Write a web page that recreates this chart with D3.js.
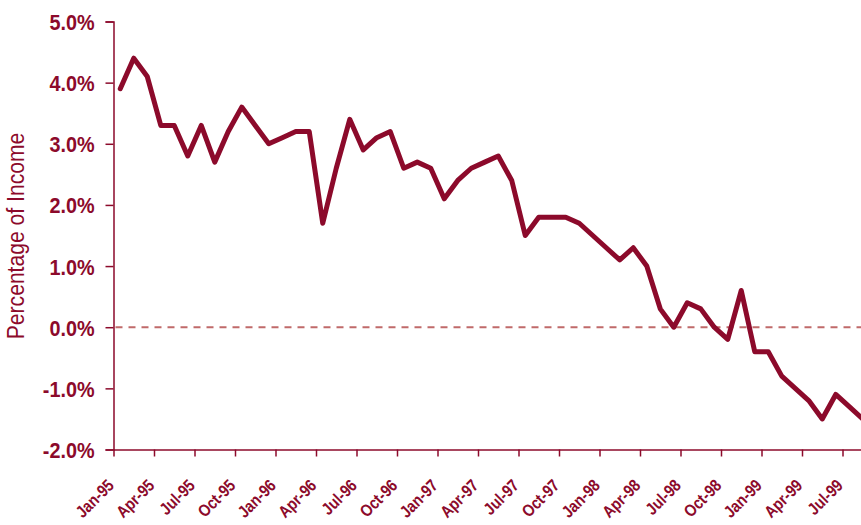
<!DOCTYPE html>
<html lang="en">
  <head>
    <meta charset="utf-8">
    <title>Percentage of Income</title>
    <style>
      body { margin: 0; background: #fff; }
      svg { display: block; }
      text { font-family: "Liberation Sans", Arial, sans-serif; fill: #8c0a2b; }
    </style>
  </head>
  <body>
    <script src="https://d3js.org/d3.v7.min.js"></script>
    <script>
      // monthly values, Jan-95 .. Aug-99
      const values = [
        3.9, 4.4, 4.1, 3.3, 3.3, 2.8, 3.3, 2.7, 3.2, 3.6, 3.3, 3.0,
        3.1, 3.2, 3.2, 1.7, 2.6, 3.4, 2.9, 3.1, 3.2, 2.6, 2.7, 2.6,
        2.1, 2.4, 2.6, 2.7, 2.8, 2.4, 1.5, 1.8, 1.8, 1.8, 1.7, 1.5,
        1.3, 1.1, 1.3, 1.0, 0.3, 0.0, 0.4, 0.3, 0.0, -0.2, 0.6, -0.4,
        -0.4, -0.8, -1.0, -1.2, -1.5, -1.1, -1.3, -1.5
      ];
      // one label every quarter
      const tickLabels = [
        "Jan-95", "Apr-95", "Jul-95", "Oct-95", "Jan-96", "Apr-96", "Jul-96",
        "Oct-96", "Jan-97", "Apr-97", "Jul-97", "Oct-97", "Jan-98", "Apr-98",
        "Jul-98", "Oct-98", "Jan-99", "Apr-99", "Jul-99"
      ];
      const yTicks = [-2, -1, 0, 1, 2, 3, 4, 5];

      const w = 861;
      const h = 525;
      const color = "#8c0a2b";

      const svg = d3.select("body").append("svg")
        .attr("width", w)
        .attr("height", h);

      // month index -> x (category edges)
      const x = d3.scaleLinear()
        .domain([0, values.length])
        .range([113.5, 113.5 + values.length * 13.5]);

      const y = d3.scaleLinear()
        .domain([-2, 5])
        .range([449.5, 21.5]);

      // y axis
      const yAxis = d3.axisLeft(y)
        .tickValues(yTicks)
        .tickSize(8)
        .tickFormat(d => d.toFixed(1) + "%");

      const gy = svg.append("g")
        .attr("transform", `translate(${x(0)},0)`)
        .call(yAxis);
      gy.select(".domain").attr("stroke", color).attr("stroke-width", 1.5);
      gy.selectAll(".tick line").attr("stroke", color).attr("stroke-width", 1.5);
      // condensed look: squeeze the glyphs sideways
      gy.selectAll(".tick text")
        .attr("fill", color)
        .attr("x", 0)
        .attr("dy", "0.36em")
        .attr("transform", "translate(-19,0) scale(0.9,1)")
        .style("font-size", "22px")
        .style("font-weight", "bold");

      // x axis, ticks on quarter boundaries
      const xAxis = d3.axisBottom(x)
        .tickValues(d3.range(0, values.length, 3))
        .tickSize(7)
        .tickSizeOuter(0)
        .tickFormat((d, i) => tickLabels[i]);

      const gx = svg.append("g")
        .attr("transform", `translate(0,${y(-2)})`)
        .call(xAxis);
      gx.select(".domain").attr("stroke", color).attr("stroke-width", 1.5);
      gx.selectAll(".tick line").attr("stroke", color).attr("stroke-width", 1.5);
      gx.selectAll(".tick text")
        .attr("fill", color)
        .attr("text-anchor", "end")
        .attr("x", 0)
        .attr("y", 0)
        .attr("dy", 0)
        .attr("transform", "translate(1,37) rotate(-45) scale(0.85,1)")
        .style("font-size", "17px")
        .style("font-weight", "bold");

      // zero line
      svg.append("line")
        .attr("x1", x(0) + 2)
        .attr("x2", w)
        .attr("y1", y(0))
        .attr("y2", y(0))
        .attr("stroke", "#c06a6a")
        .attr("stroke-width", 2)
        .attr("stroke-dasharray", "7,6");

      // data line, points at category centres
      const line = d3.line()
        .x((d, i) => x(i + 0.5))
        .y(d => y(d));

      svg.append("path")
        .datum(values)
        .attr("d", line)
        .attr("fill", "none")
        .attr("stroke", color)
        .attr("stroke-width", 5)
        .attr("stroke-linejoin", "round")
        .attr("stroke-linecap", "round");

      // y label
      svg.append("text")
        .attr("transform", "translate(24,236) rotate(-90) scale(0.88,1)")
        .attr("text-anchor", "middle")
        .style("font-size", "24px")
        .text("Percentage of Income");
    </script>
  </body>
</html>
